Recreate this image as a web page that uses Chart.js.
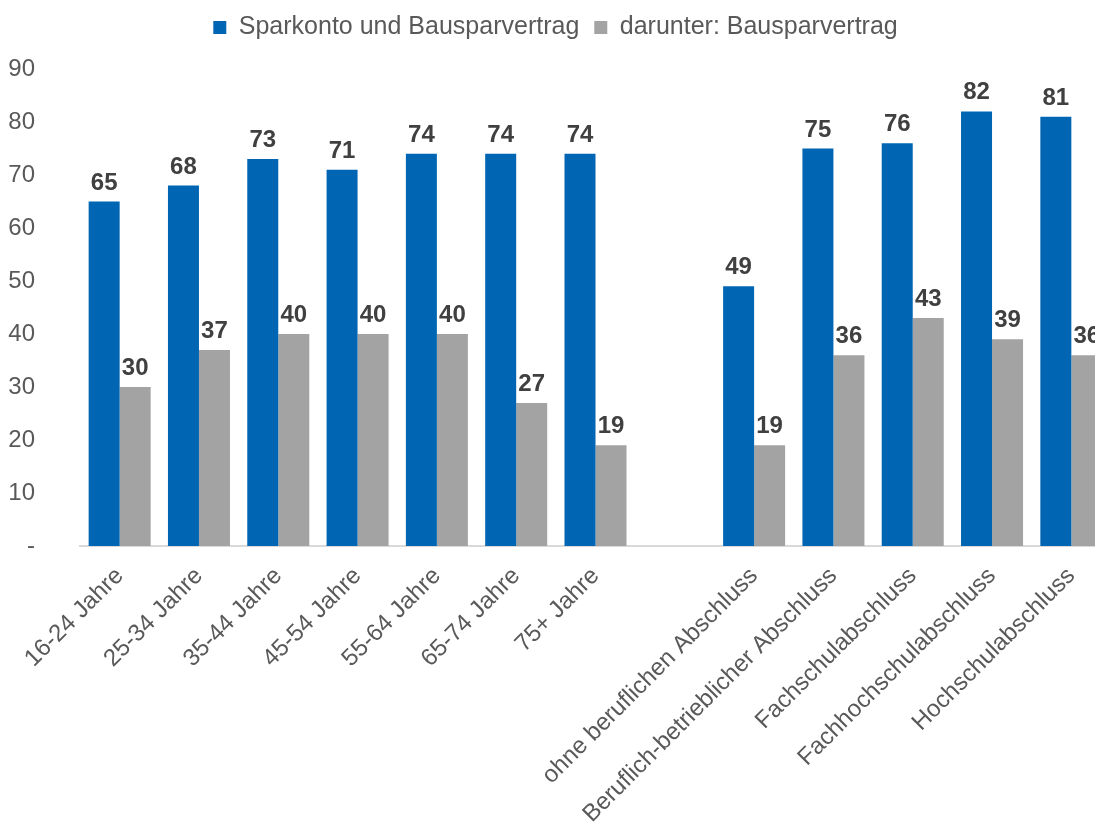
<!DOCTYPE html>
<html lang="de">
<head>
<meta charset="utf-8">
<script src="https://cdn.jsdelivr.net/npm/chart.js@4/dist/chart.umd.min.js"></script>
<style>
    html, body { margin: 0; padding: 0; background: #fff; overflow: hidden; }
    #wrap { width: 1111px; height: 836px; }
</style>
</head>
<body>
<div id="wrap"><canvas id="grafico"></canvas></div>
<script>
// Kategorien: Altersgruppen, Lücke, Berufsabschlüsse
const kategorien = [
    '16-24 Jahre', '25-34 Jahre', '35-44 Jahre', '45-54 Jahre',
    '55-64 Jahre', '65-74 Jahre', '75+ Jahre', '',
    'ohne beruflichen Abschluss', 'Beruflich-betrieblicher Abschluss',
    'Fachschulabschluss', 'Fachhochschulabschluss', 'Hochschulabschluss'
];

const sparkonto = [65, 68, 73, 71, 74, 74, 74, null, 49, 75, 76, 82, 81];
const bausparvertrag = [30, 37, 40, 40, 40, 27, 19, null, 19, 36, 43, 39, 36];

const yTicks = [0, 10, 20, 30, 40, 50, 60, 70, 80, 90];

const schrift = 'Liberation Sans, Arial, sans-serif';

// Zahlen über den Balken
const wertLabels = {
    id: 'wertLabels',
    afterDatasetsDraw(chart) {
        const ctx = chart.ctx;
        ctx.save();
        ctx.font = 'bold 24px ' + schrift;
        ctx.fillStyle = '#404040';
        ctx.textAlign = 'center';
        ctx.textBaseline = 'alphabetic';
        chart.data.datasets.forEach((ds, i) => {
            chart.getDatasetMeta(i).data.forEach((bar, j) => {
                const v = ds.data[j];
                if (v === null) return;
                ctx.fillText(String(v), bar.x, bar.y - 12);
            });
        });
        ctx.restore();
    }
};

// Legende bekommt feste Höhe, damit die Zeichenfläche weiter unten beginnt
const legendenHoehe = {
    id: 'legendenHoehe',
    beforeInit(chart) {
        const fit = chart.legend.fit;
        chart.legend.fit = function () {
            fit.call(this);
            this.height = 69;
        };
    }
};

new Chart(document.getElementById('grafico'), {
    type: 'bar',
    data: {
        labels: kategorien,
        datasets: [
            {
                label: 'Sparkonto und Bausparvertrag',
                data: sparkonto,
                backgroundColor: '#0066b3'
            },
            {
                label: 'darunter: Bausparvertrag',
                data: bausparvertrag,
                backgroundColor: '#a3a3a3'
            }
        ]
    },
    options: {
        responsive: true,
        maintainAspectRatio: false,
        animation: false,
        layout: { padding: 0 },
        datasets: {
            bar: { categoryPercentage: 0.782, barPercentage: 1.0 }
        },
        plugins: {
            legend: {
                position: 'top',
                labels: {
                    boxWidth: 13,
                    boxHeight: 13,
                    padding: 15,
                    color: '#595959',
                    font: { family: schrift, size: 25 }
                }
            },
            tooltip: { enabled: false }
        },
        scales: {
            x: {
                grid: { display: false, drawTicks: false },
                border: { display: true, color: '#d9d9d9', width: 2 },
                ticks: {
                    color: '#595959',
                    font: { family: schrift, size: 24 },
                    minRotation: 45,
                    maxRotation: 45,
                    autoSkip: false,
                    padding: 16
                },
                afterFit: s => { s.height = 290; }
            },
            y: {
                min: 0,
                max: 90,
                afterBuildTicks: s => { s.ticks = yTicks.map(v => ({ value: v })); },
                grid: { display: false, drawTicks: false },
                border: { display: false },
                ticks: {
                    color: '#595959',
                    font: { family: schrift, size: 24 },
                    padding: 45,
                    callback: v => v === 0 ? '-' : v
                },
                afterFit: s => { s.width = 80; }
            }
        }
    },
    plugins: [wertLabels, legendenHoehe]
});
</script>
</body>
</html>
